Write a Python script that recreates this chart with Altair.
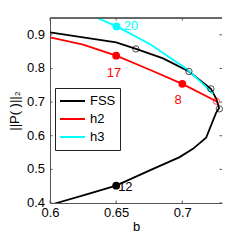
import altair as alt
import pandas as pd

# ---- data ----
fss_x = [0.600, 0.625, 0.650, 0.665, 0.6855, 0.705, 0.7216, 0.7257, 0.7278, 0.7255, 0.718, 0.708, 0.698, 0.6754, 0.650, 0.6251, 0.605, 0.600]
fss_y = [0.9074, 0.8926, 0.8777, 0.858, 0.830, 0.791, 0.7395, 0.710, 0.682, 0.668, 0.594, 0.561, 0.5365, 0.497, 0.4516, 0.4228, 0.400, 0.394]
h2_x = [0.600, 0.6251, 0.650, 0.675, 0.700, 0.7257]
h2_y = [0.8926, 0.871, 0.838, 0.797, 0.7543, 0.7027]
h3_x = [0.633, 0.6503, 0.6754, 0.7031, 0.7156, 0.7232]
h3_y = [0.955, 0.925, 0.873, 0.799, 0.754, 0.7246]

open_series = ["FSS", "FSS", "FSS", "FSS", "h2"]
open_x = [0.6649, 0.705, 0.7216, 0.728, 0.7257]
open_y = [0.858, 0.791, 0.7395, 0.680, 0.7027]

dot_series = ["FSS", "h2", "h2", "h3"]
dot_x = [0.650, 0.650, 0.700, 0.6503]
dot_y = [0.4516, 0.838, 0.7543, 0.925]

lab_series = ["FSS", "h2", "h2", "h3"]
lab_text = ["12", "17", "8", "20"]
lab_x = [0.6515, 0.6483, 0.6968, 0.6558]
lab_y = [0.4475, 0.787, 0.705, 0.925]
lab_align = ["left", "center", "center", "left"]

x_ticks = [0.6, 0.65, 0.7]
y_ticks = [0.4, 0.5, 0.6, 0.7, 0.8, 0.9]
y_tick_labels = ["0.4", "0.5", "0.6", "0.7", "0.8", "0.9"]

series = ["FSS", "h2", "h3"]
colors = ["#000000", "#ff0000", "#00ffff"]

W, H = 172, 185

lines = pd.DataFrame(
    [{"s": "FSS", "i": i, "x": a, "y": b} for i, (a, b) in enumerate(zip(fss_x, fss_y))]
    + [{"s": "h2", "i": i, "x": a, "y": b} for i, (a, b) in enumerate(zip(h2_x, h2_y))]
    + [{"s": "h3", "i": i, "x": a, "y": b} for i, (a, b) in enumerate(zip(h3_x, h3_y))]
)
opens = pd.DataFrame({"s": open_series, "x": open_x, "y": open_y})
dots = pd.DataFrame({"s": dot_series, "x": dot_x, "y": dot_y})
labs = pd.DataFrame({"s": lab_series, "t": lab_text, "x": lab_x, "y": lab_y, "a": lab_align})
xt = pd.DataFrame({"v": x_ticks})
yt = pd.DataFrame({"v": y_ticks, "lab": y_tick_labels})

xs = alt.Scale(domain=[0.6, 0.73], nice=False, zero=False)
ys = alt.Scale(domain=[0.4, 0.95], nice=False, zero=False)
cs = alt.Scale(domain=series, range=colors)

xax = alt.Axis(values=x_ticks, format="~g", labelPadding=3, titlePadding=1)
yax = alt.Axis(values=y_ticks, labels=False, titlePadding=28)

line_layer = alt.Chart(lines).mark_line(strokeWidth=1.8, clip=True).encode(
    x=alt.X("x:Q", scale=xs, axis=xax, title="b"),
    y=alt.Y("y:Q", scale=ys, axis=yax, title="||P(  )||₂"),
    color=alt.Color("s:N", scale=cs, legend=alt.Legend(
        title=None, orient="none", legendX=5, legendY=70, padding=4,
        fillColor="white", strokeColor="#222222", symbolType="stroke",
        symbolSize=625, symbolStrokeWidth=2, clipHeight=18, rowPadding=0,
        labelFontSize=13, labelOffset=4, labelColor="black")),
    order="i:Q",
)

def X(f):
    return alt.X(f, scale=xs)

def Y(f):
    return alt.Y(f, scale=ys)

open_layer = alt.Chart(opens).mark_point(shape="circle", size=40, strokeWidth=1, filled=False).encode(
    x=X("x:Q"), y=Y("y:Q"),
    color=alt.Color("s:N", scale=cs, legend=None),
)
dot_layer = alt.Chart(dots).mark_point(shape="circle", size=60, filled=True, opacity=1).encode(
    x=X("x:Q"), y=Y("y:Q"),
    color=alt.Color("s:N", scale=cs, legend=None),
)

def lab_layer(align):
    d = labs[labs["a"] == align]
    return alt.Chart(d).mark_text(align=align, baseline="middle", fontSize=13).encode(
        x=X("x:Q"), y=Y("y:Q"), text="t:N",
        color=alt.Color("s:N", scale=cs, legend=None),
    )

tick_color = "#555555"
bt = alt.Chart(xt).mark_rule(color=tick_color).encode(x=X("v:Q"), y=alt.value(H), y2=alt.value(H - 2.5))
tt = alt.Chart(xt).mark_rule(color=tick_color).encode(x=X("v:Q"), y=alt.value(0), y2=alt.value(2.5))
lt = alt.Chart(yt).mark_rule(color=tick_color).encode(y=Y("v:Q"), x=alt.value(0), x2=alt.value(2.5))
rt = alt.Chart(yt).mark_rule(color=tick_color).encode(y=Y("v:Q"), x=alt.value(W), x2=alt.value(W - 2.5))
ylab = alt.Chart(yt).mark_text(align="right", baseline="middle", fontSize=13, color="black").encode(
    y=Y("v:Q"), x=alt.value(-5), text="lab:N")
top_line = alt.Chart(xt).mark_rule(color=tick_color).encode(x=alt.value(0), x2=alt.value(W), y=alt.value(0))

chart = alt.layer(
    line_layer, bt, tt, lt, rt, ylab, top_line, open_layer, dot_layer, lab_layer("left"), lab_layer("center")
).properties(
    width=W, height=H,
    autosize=alt.AutoSizeParams(type="none"),
    padding={"left": 42, "top": 10, "right": 15, "bottom": 29},
).configure(
    font="Liberation Sans",
).configure_view(
    stroke=None,
).configure_axis(
    labelFontSize=13, titleFontSize=13, labelColor="black", titleColor="black",
    titleFontWeight="normal", labelOverlap=False, labelFlush=False, tickSize=0,
    grid=False, domainColor="#555555",
)

chart.save("out.html", embed_options={"renderer": "svg", "actions": False})
